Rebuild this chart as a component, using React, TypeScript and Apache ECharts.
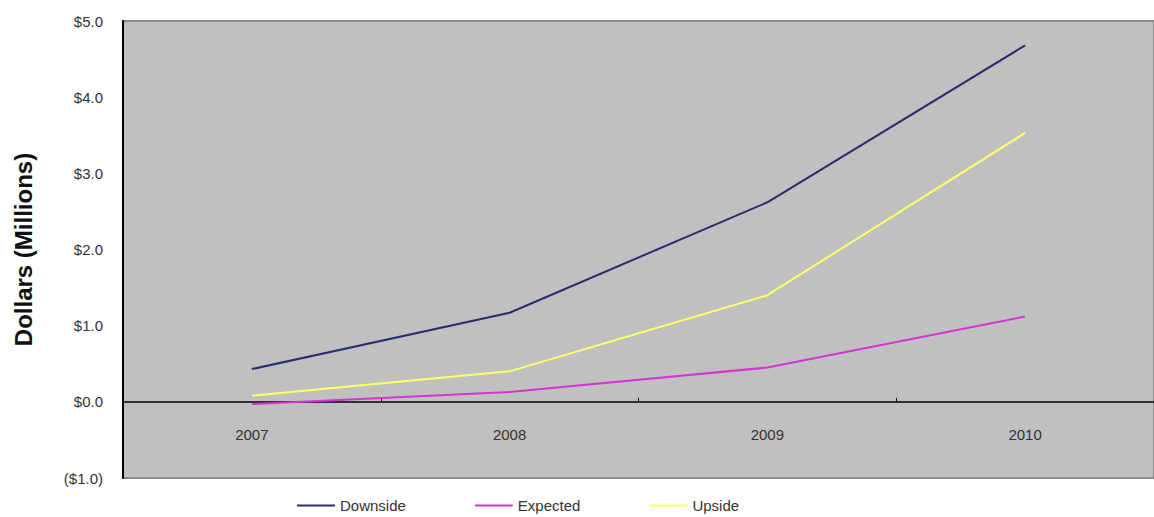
import React, { useEffect, useRef } from "react";
import * as echarts from "echarts";

const years = ["2007", "2008", "2009", "2010"];
const downside = [0.43, 1.17, 2.62, 4.68];
const expected = [-0.03, 0.13, 0.45, 1.12];
const upside = [0.08, 0.4, 1.4, 3.53];

const font = "'Liberation Sans', Arial, sans-serif";

export default function App() {
  const ref = useRef<HTMLDivElement>(null);
  useEffect(() => {
    document.body.style.margin = "0";
    const chart = echarts.init(ref.current!, null, { renderer: "svg" });
    const fmt = (v: number) =>
      v < 0 ? `($${Math.abs(v).toFixed(1)})` : `$${v.toFixed(1)}`;
    chart.setOption({
      animation: false,
      textStyle: { fontFamily: font },
      grid: {
        left: 123,
        top: 21,
        width: 1040,
        height: 457,
        show: true,
        backgroundColor: "#c0c0c0",
        borderColor: "#8a8a8a",
        borderWidth: 2,
      },
      legend: {
        left: 297,
        top: 498,
        padding: 0,
        itemGap: 69,
        itemWidth: 38,
        itemHeight: 2,
        icon: "rect",
        textStyle: { fontSize: 15, color: "#333", fontFamily: font },
        data: ["Downside", "Expected", "Upside"],
      },
      xAxis: {
        type: "category",
        data: years,
        boundaryGap: true,
        axisLine: { onZero: true, lineStyle: { color: "#000", width: 1.5 } },
        axisTick: { show: true, inside: true, length: 4, lineStyle: { color: "#000" } },
        axisLabel: { margin: -51, fontSize: 15, color: "#333", fontFamily: font },
        splitLine: { show: false },
      },
      yAxis: {
        type: "value",
        min: -1,
        max: 5,
        interval: 1,
        name: "Dollars (Millions)",
        nameLocation: "middle",
        nameGap: 88,
        nameTextStyle: { fontSize: 24, fontWeight: "bold", color: "#111", fontFamily: font },
        axisLine: { show: true, lineStyle: { color: "#000", width: 2 } },
        axisTick: { show: false },
        axisLabel: { formatter: fmt, fontSize: 15, color: "#333", margin: 20, fontFamily: font },
        splitLine: { show: false },
      },
      series: [
        {
          name: "Downside",
          type: "line",
          data: downside,
          showSymbol: false,
          symbol: "none",
          lineStyle: { color: "#2b2b70", width: 2 },
          itemStyle: { color: "#2b2b70" },
        },
        {
          name: "Expected",
          type: "line",
          data: expected,
          showSymbol: false,
          symbol: "none",
          lineStyle: { color: "#d633d6", width: 2 },
          itemStyle: { color: "#d633d6" },
        },
        {
          name: "Upside",
          type: "line",
          data: upside,
          showSymbol: false,
          symbol: "none",
          lineStyle: { color: "#ffff66", width: 2 },
          itemStyle: { color: "#ffff66" },
        },
      ],
    });
    return () => chart.dispose();
  }, []);
  return <div ref={ref} style={{ width: 1154, height: 517 }} />;
}
